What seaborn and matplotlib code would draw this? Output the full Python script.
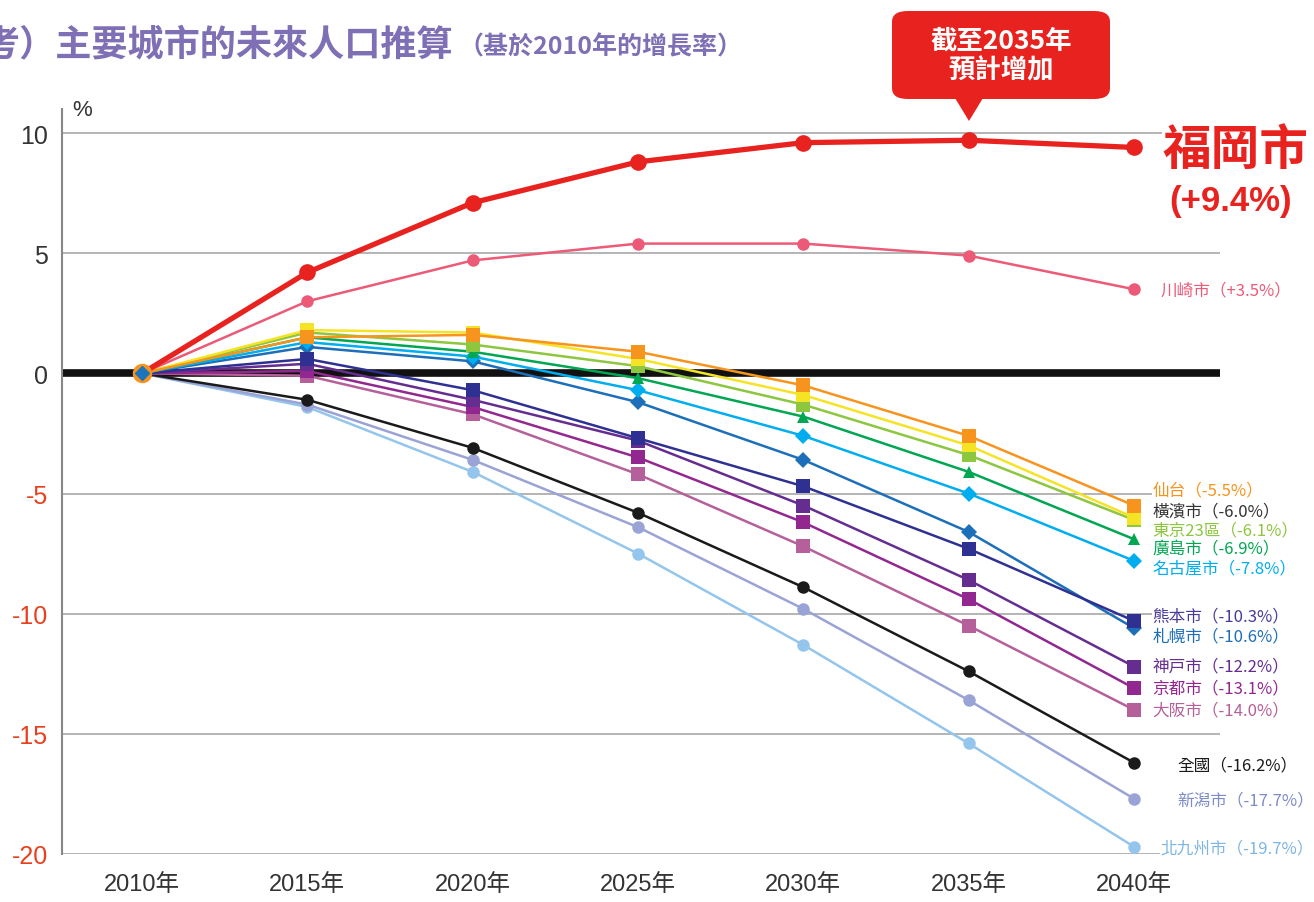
import pandas as pd
import matplotlib.pyplot as plt
import seaborn as sns
from matplotlib.patches import FancyBboxPatch, Polygon

# data (% change vs 2010)
years = ['2010年', '2015年', '2020年', '2025年', '2030年', '2035年', '2040年']

fukuoka = [0, 4.2, 7.1, 8.8, 9.6, 9.7, 9.4]
kawasaki = [0, 3.0, 4.7, 5.4, 5.4, 4.9, 3.5]
sendai = [0, 1.5, 1.6, 0.9, -0.5, -2.6, -5.5]
yokohama = [0, 1.8, 1.7, 0.6, -0.9, -3.0, -6.0]
tokyo23 = [0, 1.7, 1.2, 0.3, -1.3, -3.4, -6.1]
hiroshima = [0, 1.5, 0.9, -0.2, -1.8, -4.1, -6.9]
nagoya = [0, 1.3, 0.7, -0.7, -2.6, -5.0, -7.8]
sapporo = [0, 1.1, 0.5, -1.2, -3.6, -6.6, -10.6]
kumamoto = [0, 0.6, -0.7, -2.7, -4.7, -7.3, -10.3]
kobe = [0, 0.4, -1.1, -2.8, -5.5, -8.6, -12.2]
kyoto = [0, 0.1, -1.4, -3.5, -6.2, -9.4, -13.1]
osaka = [0, -0.1, -1.7, -4.2, -7.2, -10.5, -14.0]
national = [0, -1.1, -3.1, -5.8, -8.9, -12.4, -16.2]
niigata = [0, -1.3, -3.6, -6.4, -9.8, -13.6, -17.7]
kitakyushu = [0, -1.4, -4.1, -7.5, -11.3, -15.4, -19.7]

labels = {
    'kawasaki': '川崎市（+3.5%）', 'sendai': '仙台（-5.5%）', 'yokohama': '橫濱市（-6.0%）',
    'tokyo23': '東京23區（-6.1%）', 'hiroshima': '廣島市（-6.9%）', 'nagoya': '名古屋市（-7.8%）',
    'kumamoto': '熊本市（-10.3%）', 'sapporo': '札幌市（-10.6%）', 'kobe': '神戸市（-12.2%）',
    'kyoto': '京都市（-13.1%）', 'osaka': '大阪市（-14.0%）', 'national': '全國（-16.2%）',
    'niigata': '新潟市（-17.7%）', 'kitakyushu': '北九州市（-19.7%）',
}

# name, values, line colour, label colour, marker, marker size, line width, label x, label y
series = [
    ('kitakyushu', kitakyushu, '#94c5ec', '#7fb5e3', 'o', 9, 1.8, 6.16, -19.75),
    ('niigata', niigata, '#9aa3d6', '#7f8cc8', 'o', 9, 1.8, 6.26, -17.75),
    ('national', national, '#1a1a1a', '#1a1a1a', 'o', 9, 1.8, 6.26, -16.3),
    ('osaka', osaka, '#b5609a', '#b5609a', 's', 10, 1.8, 6.11, -14.0),
    ('kyoto', kyoto, '#92278f', '#92278f', 's', 10, 1.8, 6.11, -13.1),
    ('kobe', kobe, '#662d91', '#662d91', 's', 10, 1.8, 6.11, -12.18),
    ('sapporo', sapporo, '#1c6fb8', '#1c6fb8', 'D', 8, 1.8, 6.11, -10.94),
    ('kumamoto', kumamoto, '#2e3192', '#4a3a9a', 's', 10, 1.8, 6.11, -10.1),
    ('nagoya', nagoya, '#00aeef', '#00aeef', 'D', 8, 1.8, 6.11, -8.11),
    ('hiroshima', hiroshima, '#00a651', '#00a651', '^', 9, 1.8, 6.11, -7.32),
    ('tokyo23', tokyo23, '#8dc63f', '#8dc63f', 's', 10, 1.8, 6.11, -6.53),
    ('yokohama', yokohama, '#f5e325', '#333333', 's', 10, 1.8, 6.11, -5.74),
    ('sendai', sendai, '#f7941d', '#f7941d', 's', 10, 1.8, 6.11, -4.86),
    ('kawasaki', kawasaki, '#ec5a78', '#ec5a78', 'o', 9, 1.8, 6.16, 3.49),
]

sns.set_theme(style="white")
plt.rcParams['font.family'] = ['Liberation Sans', 'Noto Sans CJK TC', 'DejaVu Sans']

fig = plt.figure(figsize=(13.14, 9.03), dpi=100)
ax = fig.add_axes([62 / 1314, 1 - 855 / 903, (1220 - 62) / 1314, (855 - 110) / 903])

x = list(range(len(years)))
cjk = ['Noto Sans CJK TC', 'DejaVu Sans']

# gridlines and zero line
for g in [10, 5, -5, -10, -15, -20]:
    ax.axhline(g, color='#a0a0a0', lw=1.1, zorder=1)
ax.axhline(0, color='#111111', lw=5.5, zorder=1.5)

for name, vals, col, lcol, mk, ms, lw, lx, ly in series:
    sns.lineplot(x=x, y=vals, ax=ax, color=col, lw=lw, marker=mk, markersize=ms,
                 markeredgewidth=0, markevery=list(range(1, 7)), zorder=3)
    ax.text(lx, ly, labels[name], color=lcol, fontsize=12, va='center', ha='left',
            family=cjk, zorder=5,
            bbox=dict(facecolor='white', edgecolor='none', pad=0.5))

sns.lineplot(x=x, y=fukuoka, ax=ax, color='#e8231f', lw=3.8, marker='o', markersize=12,
             markeredgewidth=0, markevery=list(range(1, 7)), zorder=4)

# common start point in 2010
ax.plot(x[0], fukuoka[0], marker='o', ms=13, mfc='#f7941d', mec='#f7941d', zorder=6)
ax.plot(x[0], fukuoka[0], marker='D', ms=7, mfc='#1c75bc', mec='#1c75bc', zorder=7)

ax.text(6.17, 9.3, '福岡市', color='#e8231f', fontsize=35, fontweight='bold',
        va='center', ha='left', family=cjk, zorder=5,
        bbox=dict(facecolor='white', edgecolor='none', pad=0.5))
ax.text(6.215, 7.2, '(+9.4%)', color='#e8231f', fontsize=25, fontweight='bold',
        va='center', ha='left', zorder=5)

ax.set_xlim(-0.484, 6.52)
ax.set_ylim(-20, 11)
ax.set_xticks(x)
ax.set_xticklabels(years, fontsize=17, color='#333333')
ax.set_yticks([10, 5, 0, -5, -10, -15, -20])
ax.set_yticklabels(['10', '5', '0', '-5', '-10', '-15', '-20'], fontsize=18)
for t in ax.get_yticklabels():
    t.set_color('#e8401c' if t.get_text().startswith('-') else '#333333')
ax.tick_params(axis='x', length=0, pad=14)
ax.tick_params(axis='y', length=0, pad=10)
for s in ['top', 'right', 'bottom']:
    ax.spines[s].set_visible(False)
ax.spines['left'].set_color('#888888')
ax.spines['left'].set_linewidth(1.5)
ax.set_xlabel('')
ax.set_ylabel('')

fig.text(72 / 1314, 1 - 110 / 903, '%', fontsize=16, color='#333333', va='center')

# title
fig.text(-0.012, 1 - 45 / 903, '考）主要城市的未來人口推算', fontsize=26, fontweight='bold',
         color='#7f6fb5', va='center', ha='left', family=cjk)
fig.text(458 / 1314, 1 - 47 / 903, '（基於2010年的增長率）', fontsize=18, fontweight='bold',
         color='#7f6fb5', va='center', ha='left', family=cjk)

# callout
W, H = 1314, 903
box = FancyBboxPatch((892 / W, 1 - 100 / H), (1110 - 892) / W, (100 - 12) / H,
                     boxstyle='round,pad=0,rounding_size=0.012', transform=fig.transFigure,
                     facecolor='#e8231f', edgecolor='none')
fig.patches.append(box)
tri = Polygon([(955 / W, 1 - 99 / H), (983 / W, 1 - 99 / H), (969 / W, 1 - 122 / H)],
              closed=True, transform=fig.transFigure, facecolor='#e8231f', edgecolor='none')
fig.patches.append(tri)
fig.text(1001 / W, 1 - 56 / H, '截至2035年\n預計增加', fontsize=19, fontweight='bold',
         color='white', ha='center', va='center', linespacing=1.15, family=cjk)

plt.savefig('out.png', dpi=100)
plt.close()
